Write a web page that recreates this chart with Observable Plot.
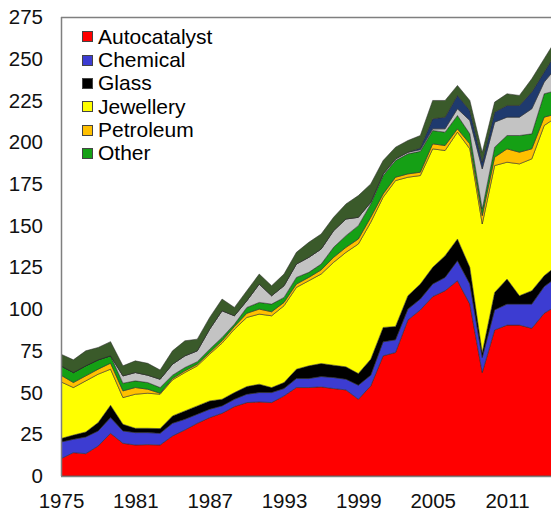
<!DOCTYPE html>
<html>
<head>
<meta charset="utf-8">
<script src="https://cdn.jsdelivr.net/npm/d3@7"></script>
<script src="https://cdn.jsdelivr.net/npm/@observablehq/plot@0.6"></script>
<style>
  html, body { margin: 0; padding: 0; background: #fff; }
  #wrap { position: relative; width: 551px; height: 514px; overflow: hidden; font-family: "Liberation Sans", Arial, sans-serif; }
  #legend { position: absolute; left: 0; top: 0; }
  .lg-row { position: absolute; left: 82px; height: 24px; display: flex; align-items: center; font-size: 21px; color: #000; white-space: nowrap; }
  .lg-sw { width: 11px; height: 11px; border: 1px solid #444; margin-right: 5px; box-sizing: border-box; }
</style>
</head>
<body>
<div id="wrap"><div id="chart"></div><div id="legend"></div></div>
<script>
const years = [1975,1976,1977,1978,1979,1980,1981,1982,1983,1984,1985,1986,1987,1988,1989,1990,1991,1992,1993,1994,1995,1996,1997,1998,1999,2000,2001,2002,2003,2004,2005,2006,2007,2008,2009,2010,2011,2012,2013,2014,2015];

const autocatalyst = [10.4,14,13.4,18,25.6,19.6,18.6,18.8,18.6,24,27.6,31.6,35,37.6,41.6,44,44.4,44,48,53,53,53.4,52.4,51.6,46,54,72,74,93.5,99.5,107.5,111,117,103,62,87.5,90.4,90.4,88.5,97.5,102];
const chemical     = [10,8,10,9,9.4,7.4,7.4,7.2,7,7.6,6.4,5.4,5,4.4,4.4,5,5.6,6,4.4,5.4,5.4,6.2,6.6,6.4,8.4,6.4,8.4,7.6,6.5,6.5,7.5,8,12,12,9,12,12.6,12.6,14.5,16,17];
const glass        = [2.1,2.5,3,5,7.4,4,2.6,2.6,2.8,4.4,5,5,5,4,4,4.6,5,3,3.6,5.6,7.6,7.8,7.4,7.4,7,9.6,8.6,8,8,9,10,13,13,10,3,10.5,15,5,8,6.5,7];
const jewellery    = [33.9,28.5,30.6,29,21.6,16,20.4,21,20.6,21.6,23,24,28,33.6,38,41.4,42,43,46,49,51,53.6,61.6,68.6,77.6,82,78,87.4,71,65,71,63,64,71,77,76,70,79,79,90,89];
const petroleum    = [4,3,3,3,3.6,4,4,2.4,0.6,0.8,1,1,1,1.4,1.6,2.5,3,2.4,2,2,2,2.5,3,3,3,3,2,2,2,2,3,3,2,3,5,5,8,7,6,5,2];
const other        = [5.6,6,6,5.6,4.4,4.6,4,4,3.4,2,2,1.5,2,2,1.4,3.5,4,4.6,3,4,3,3.5,6,7,8,8,11,10,12,12.5,8,8,8,6,4,6,8,10,9,14,14];
const investment   = [0,0,0,0,0,4.4,5,4.4,5,6.6,7,6.5,12,16,5,4,11,5,7,8,9,9,10,10,5,1,1,1,1,1,1,2,4,8,24,15,11,11,15,7,14];
const medical      = [0,0,0,0,0,0,0,0,0,0,0,0,0,0,0,0,0,0,0,0,0,0,0,0,0,0,0,0,0,1,6,7,8,6,4,6,7,7,10,6,9];
const electrical   = [7,7.6,9,7.4,8.5,6,7,7.1,5.5,8,9,7,7,7,5,6,6,6,7,7,9,9,8,9,13,11,8,7,7,7.5,11,10,6,6,6,6,7,6,8,8,8];

const seriesNames  = ["Autocatalyst","Chemical","Glass","Jewellery","Petroleum","Other","Investment","Medical","Electrical"];
const seriesValues = [autocatalyst, chemical, glass, jewellery, petroleum, other, investment, medical, electrical];
const seriesColors = ["#ff0000","#3c3cd2","#000000","#ffff00","#ffc000","#15a015","#c3c3c3","#1f3a6e","#3a5a2a"];
const legendNames  = ["Autocatalyst","Chemical","Glass","Jewellery","Petroleum","Other"];
const yTicks = [0,25,50,75,100,125,150,175,200,225,250,275];
const xTicks = [1975,1981,1987,1993,1999,2005,2011];

const rows = [];
seriesNames.forEach((name, i) => {
  years.forEach((yr, j) => rows.push({year: yr, series: name, value: seriesValues[i][j]}));
});

const plot = Plot.plot({
  width: 551,
  height: 514,
  marginLeft: 61,
  marginRight: 0,
  marginTop: 17,
  marginBottom: 38,
  style: {fontFamily: '"Liberation Sans", Arial, sans-serif', fontSize: "20.5px", color: "#111", background: "#fff", overflow: "hidden"},
  x: {domain: [1975, 2014.55], ticks: xTicks, tickFormat: d => String(d), tickSize: 0, tickPadding: 17, label: null},
  y: {domain: [0, 275], ticks: yTicks, tickSize: 0, tickPadding: 18.5, label: null},
  color: {domain: seriesNames, range: seriesColors},
  marks: [
    Plot.areaY(rows, {x: "year", y: "value", z: "series", fill: "series", order: seriesNames,
      stroke: "#2a2a2a", strokeWidth: 0.7, strokeOpacity: 0.75, clip: true}),
    Plot.ruleY([0], {stroke: "#7f7f7f", strokeWidth: 1.5}),
    Plot.ruleY([275], {stroke: "#7f7f7f", strokeWidth: 1.5}),
    Plot.ruleX([1975], {stroke: "#7f7f7f", strokeWidth: 1.5})
  ]
});
document.getElementById("chart").appendChild(plot);

const legend = document.getElementById("legend");
const rowCenters = [36.7, 60, 83.3, 106.7, 130, 153.3];
legendNames.forEach((name, i) => {
  const row = document.createElement("div");
  row.className = "lg-row";
  row.style.top = (rowCenters[i] - 12) + "px";
  const sw = document.createElement("span");
  sw.className = "lg-sw";
  sw.style.background = seriesColors[seriesNames.indexOf(name)];
  const tx = document.createElement("span");
  tx.textContent = name;
  row.appendChild(sw);
  row.appendChild(tx);
  legend.appendChild(row);
});
</script>
</body>
</html>
